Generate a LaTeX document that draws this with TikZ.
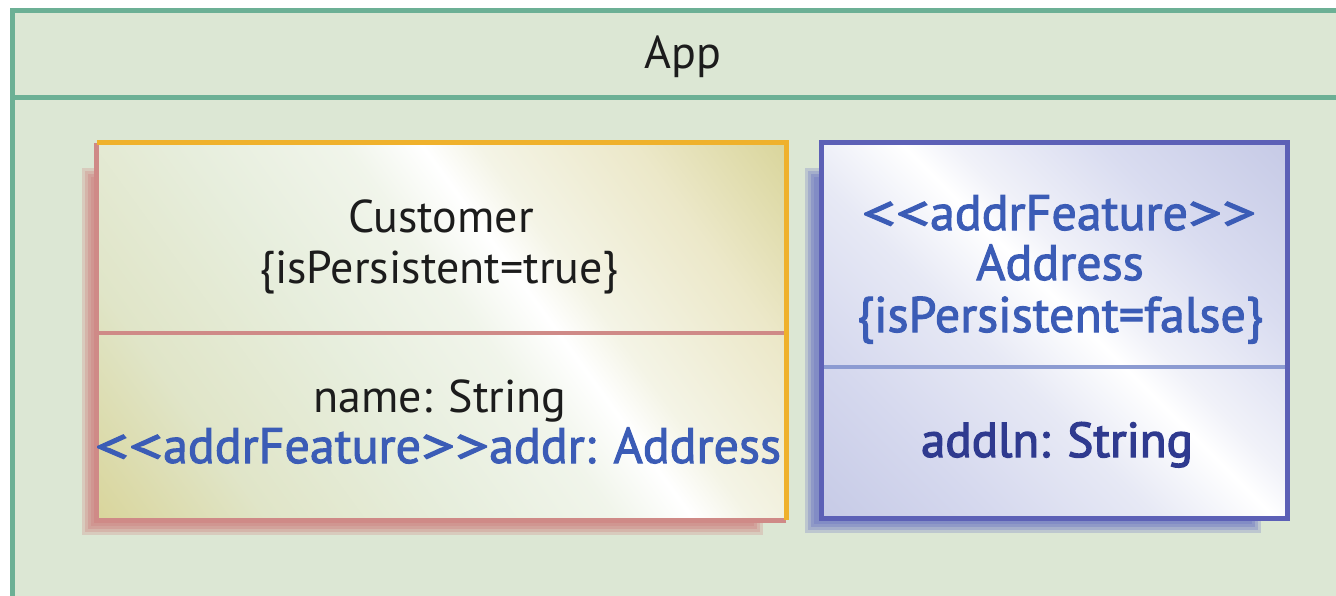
\documentclass[tikz,border=0pt]{standalone}
\usepackage{fontspec}
\setmainfont{PT Sans}
\newfontfamily\medfont[FakeBold=2]{PT Sans}
\newfontfamily\heavyfont[FakeBold=2.6]{PT Sans}

% stereotype brackets: widened, and kept apart so no guillemet ligature forms
\newcommand\lt{\scalebox{1.35}[1]{<}}
\newcommand\gt{\scalebox{1.35}[1]{>}}
\newcommand\lguil{\lt\lt}
\newcommand\rguil{\gt\gt}

\definecolor{bgGreen}{HTML}{DCE7D4}
\definecolor{frameGreen}{HTML}{6CB095}
\definecolor{custOrange}{HTML}{EFB12C}
\definecolor{custPink}{HTML}{CF8A87}
\definecolor{custShadow}{HTML}{D08C89}
\definecolor{addrBorder}{HTML}{5C60B6}
\definecolor{addrSep}{HTML}{8C9BD2}
\definecolor{addrShadow}{HTML}{7680C4}
\definecolor{umlBlue}{HTML}{3B5CB6}
\definecolor{umlNavy}{HTML}{2F3A8F}
\definecolor{umlInk}{HTML}{1C1C1C}

% glossy fills: colour bands across a diagonal axis
\definecolor{cuA}{HTML}{D9D59B}
\definecolor{cuB}{HTML}{E0E5C8}
\definecolor{cuC}{HTML}{E7EEDD}
\definecolor{cuD}{HTML}{F4F4E6}
\definecolor{cuE}{HTML}{ECE8C9}
\pgfdeclarehorizontalshading{custgloss}{100bp}{%
  color(0bp)=(cuA); color(25bp)=(cuA); color(34bp)=(cuB);
  color(44bp)=(cuC); color(52bp)=(cuC!60!white); color(56bp)=(white);
  color(59bp)=(cuD); color(67bp)=(cuE); color(75bp)=(cuA); color(100bp)=(cuA)}

\definecolor{adA}{HTML}{C6CAE6}
\definecolor{adB}{HTML}{D5D8EE}
\definecolor{adC}{HTML}{E7E9F5}
\definecolor{adD}{HTML}{F1F2F9}
\definecolor{adE}{HTML}{D9DCF0}
\pgfdeclarehorizontalshading{addrgloss}{100bp}{%
  color(0bp)=(adA); color(25bp)=(adA); color(35bp)=(adB);
  color(45bp)=(adC); color(52bp)=(white); color(55bp)=(adD);
  color(64bp)=(adE); color(75bp)=(adA); color(100bp)=(adA)}

\begin{document}
\begin{tikzpicture}[x=1pt,y=-1pt,
  txt/.style={anchor=base, inner sep=0pt, font=\fontsize{46}{50}\selectfont},
  medtxt/.style={txt, font=\medfont\fontsize{50}{54}\selectfont},
  heavytxt/.style={txt, font=\heavyfont\fontsize{49}{54}\selectfont},
  classbox/.style={rectangle, inner sep=0pt, draw=none}]
\useasboundingbox (0,0) rectangle (1336,595);
\fill[white] (0,0) rectangle (1336,595);

% package frame with its name compartment
\fill[bgGreen] (12.5,10.5) rectangle (1345,600);
\draw[frameGreen, line width=5] (1345,10.5) -- (12.5,10.5) -- (12.5,600);
\draw[frameGreen, line width=5] (12.5,97.5) -- (1345,97.5);
\node[txt, text=umlInk] (app) at (683,68) {App};

% class outlines
\node[classbox, minimum width=689pt, minimum height=377pt] (customer) at (441.5,331.5) {};
\node[classbox, minimum width=465pt, minimum height=375pt] (address) at (1054.5,330.5) {};

% drop shadows
\foreach \i/\o in {0/0.3,3/0.35,6/0.45,9/0.5}
  \fill[custShadow, opacity=\o] (82+\i,168+\i) rectangle (763-\i,535-\i);
\foreach \i/\o in {0/0.3,3/0.35,6/0.45,9/0.5}
  \fill[addrShadow, opacity=\o] (805+\i,168+\i) rectangle (1261-\i,533-\i);

% Customer fill
\begin{scope}
  \clip (customer.north west) rectangle (customer.south east);
  \begin{scope}[transform canvas={shift={(customer.center)}, rotate=36}]
    \shade[shading=custgloss] (-390,-400) rectangle (390,400);
  \end{scope}
\end{scope}
% Address fill
\begin{scope}
  \clip (address.north west) rectangle (address.south east);
  \begin{scope}[transform canvas={shift={(address.center)}, rotate=45}]
    \shade[shading=addrgloss] (-297,-300) rectangle (297,300);
  \end{scope}
\end{scope}

% Customer borders and compartment line
\draw[custPink, line width=5] (customer.south east) -- (customer.south west) -- (customer.north west);
\draw[custPink, line width=4] (customer.west |- 0,333) -- (customer.east |- 0,333);
\draw[custOrange, line width=5] (customer.north west) -- (customer.north east) -- (customer.south east);

% Address borders and compartment line
\draw[addrSep, line width=4] (address.west |- 0,367) -- (address.east |- 0,367);
\draw[addrBorder, line width=5] (address.north west) rectangle (address.south east);

% Customer texts
\node[txt, text=umlInk] (custName) at (441,232) {Customer};
\node[txt, text=umlInk] (custTag) at (439,283) {\{isPersistent=true\}};
\node[txt, text=umlInk] (custAttrA) at (440,412) {name: String};
\node[medtxt, text=umlBlue] (custAttrB) at (438,463) {\lguil addrFeature\rguil addr: Address};

% Address texts
\node[medtxt, text=umlBlue] (addrStereo) at (1059,230) {\lguil addrFeature\rguil};
\node[medtxt, text=umlBlue] (addrName) at (1060,280) {Address};
\node[medtxt, text=umlBlue] (addrTag) at (1060,332) {\{isPersistent=false\}};
\node[heavytxt, text=umlNavy] (addrAttr) at (1057,457) {addln: String};
\end{tikzpicture}
\end{document}
